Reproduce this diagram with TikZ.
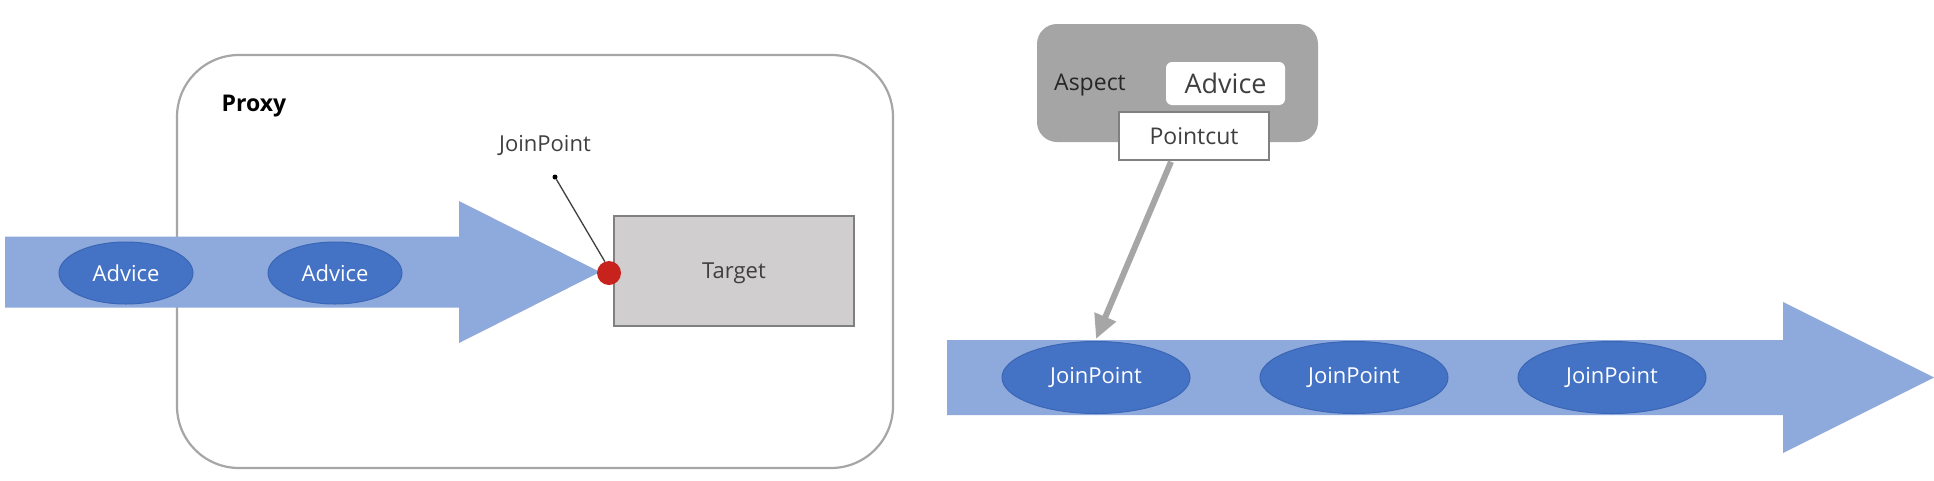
\documentclass[tikz,border=0pt]{standalone}
\usepackage{fontspec}
\setmainfont{Open Sans}
\usetikzlibrary{shapes.geometric,arrows.meta,calc}
\definecolor{arrowblue}{HTML}{8EA9DB}
\definecolor{ellblue}{HTML}{4472C4}
\definecolor{ellborder}{HTML}{3A66B5}
\definecolor{proxygray}{HTML}{A6A6A6}
\definecolor{aspectgray}{HTML}{A5A5A5}
\definecolor{targetfill}{HTML}{D0CECE}
\definecolor{targetborder}{HTML}{808080}
\definecolor{dotred}{HTML}{C8221C}
\definecolor{txtgray}{HTML}{3F3F3F}
\definecolor{pointergray}{HTML}{A6A6A6}
\begin{document}
\begin{tikzpicture}[x=1pt,y=-1pt,
  flow/.style={fill=arrowblue,draw=none},
  bubble/.style={ellipse,fill=ellblue,draw=ellborder,line width=1pt,inner sep=0pt,
    text=white,font=\fontsize{22}{26}\selectfont},
  lbl/.style={text=txtgray,font=\fontsize{22}{26}\selectfont,inner sep=0pt},
]
\useasboundingbox (0,0) rectangle (1934,480);
\fill[white] (0,0) rectangle (1934,480);

% ---------- left: proxy ----------
\node (proxy) [draw=proxygray,line width=2.2pt,rounded corners=62pt,fill=white,
  minimum width=716pt,minimum height=413pt,inner sep=0pt] at (535,261.5) {};
\node (proxylbl) [lbl,text=black,font=\fontsize{23}{27}\selectfont\bfseries] at (254,106) {Proxy};

\fill[flow] (5,236.5) -- (459,236.5) -- (459,201) -- (600,272) -- (459,343)
  -- (459,307.5) -- (5,307.5) -- cycle;

\node (adv1) [bubble,minimum width=134pt,minimum height=62pt] at (126,273) {Advice};
\node (adv2) [bubble,minimum width=134pt,minimum height=62pt] at (335,273) {Advice};

\node (target) [rectangle,fill=targetfill,draw=targetborder,line width=2pt,
  minimum width=240pt,minimum height=110pt,inner sep=0pt,lbl,text depth=0pt] at (734,271) {Target};

\node (reddot) [circle,fill=dotred,draw=none,minimum size=24pt,inner sep=0pt] at (609,273) {};
\node (jplbl) [lbl] at (545,145) {JoinPoint};
\node (jpdot) [circle,fill=black,minimum size=5pt,inner sep=0pt] at (555,177) {};
\draw[txtgray,line width=1.3pt] (jpdot) -- (reddot.110);

% ---------- right: aspect ----------
\node (aspect) [rectangle,fill=aspectgray,draw=none,rounded corners=20pt,
  minimum width=281pt,minimum height=118pt,inner sep=0pt] at (1177.5,83) {};
\node (aspectlbl) [lbl,text=black!85,font=\fontsize{23}{27}\selectfont] at (1090,85) {Aspect};
\node (advbox) [rectangle,fill=white,draw=none,rounded corners=6pt,
  minimum width=119pt,minimum height=43pt,inner sep=0pt,lbl,
  font=\fontsize{27}{31}\selectfont] at (1225.5,83.5) {Advice};
\node (pointcut) [rectangle,fill=white,draw=targetborder,line width=1.5pt,
  minimum width=150pt,minimum height=48pt,inner sep=0pt,lbl,
  font=\fontsize{23}{27}\selectfont] at (1194,136) {Pointcut};

\fill[flow] (947,340) -- (1783,340) -- (1783,302) -- (1934,377.5) -- (1783,453)
  -- (1783,415) -- (947,415) -- cycle;

\node (jp1) [bubble,minimum width=188pt,minimum height=72pt] at (1096,377.5) {JoinPoint};
\node (jp2) [bubble,minimum width=188pt,minimum height=72pt] at (1354,377.5) {JoinPoint};
\node (jp3) [bubble,minimum width=188pt,minimum height=72pt] at (1612,377.5) {JoinPoint};

\draw[pointergray,line width=6pt,-{Triangle[length=24pt,width=22pt]}]
  ($(pointcut.south)+(-23,1)$) -- ($(jp1.north)+(0,-2)$);
\end{tikzpicture}
\end{document}
